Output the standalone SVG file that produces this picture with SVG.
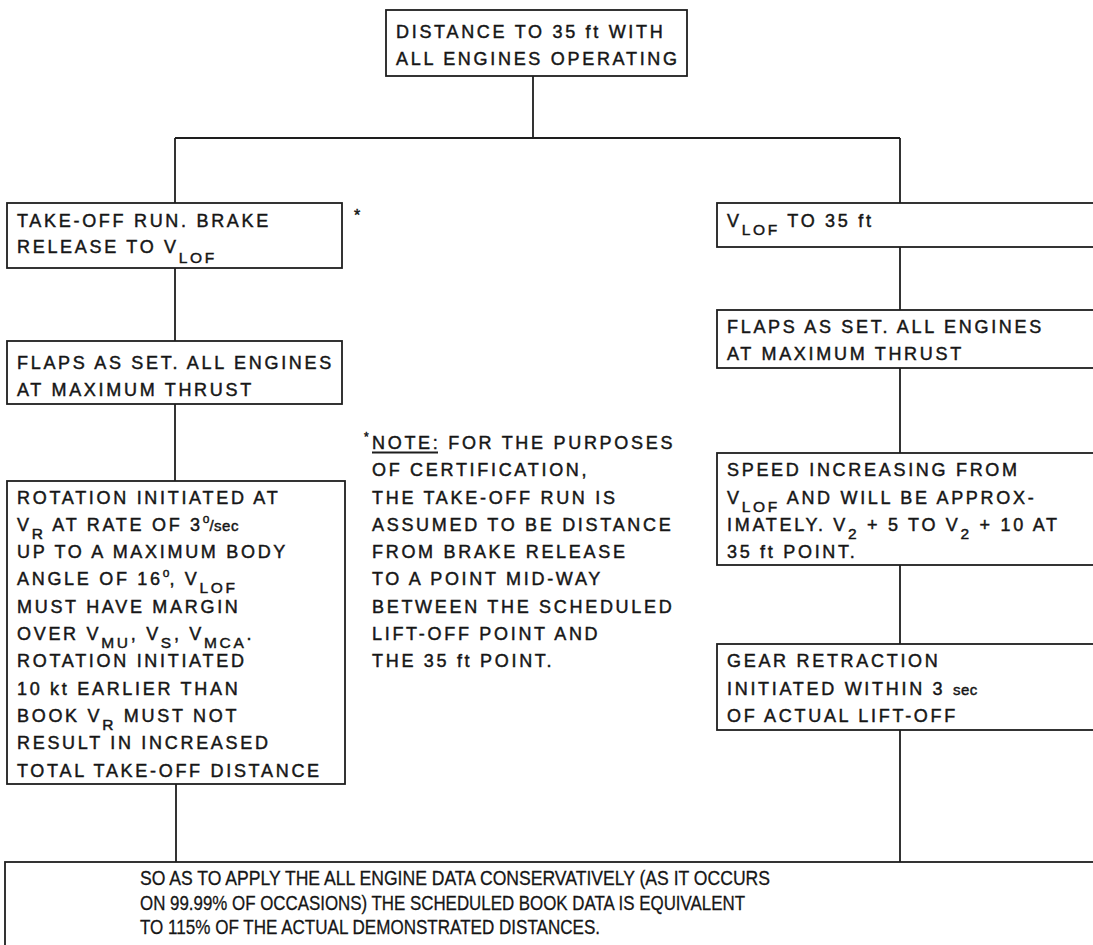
<svg xmlns="http://www.w3.org/2000/svg" width="1093" height="945" viewBox="0 0 1093 945">
<style>
.box{fill:#fff;stroke:#1e1e1e;stroke-width:1.8}
.con{fill:none;stroke:#1e1e1e;stroke-width:1.8}
text{font-family:"Liberation Sans",Arial,sans-serif;fill:#161616;stroke:#161616;stroke-width:0.45}
.t{font-size:18px;letter-spacing:2.7px}
.sub{font-size:15.5px}
.sm{font-size:15px;letter-spacing:0.5px}
.sup{font-size:12px;letter-spacing:0}
.bt{font-size:21px;stroke-width:0.3}
</style>
<rect width="1093" height="945" fill="#fff"/>
<g id="connectors">
<path class="con" d="M533 76V138M175 138H900M175 138V203M900 138V203M175 268V341M175 404V481M176 784V862M900 247V310M900 368V453M900 565V644M900 730V862"/>
<path class="con" d="M372 452.5H438" stroke-width="1.3"/>
</g>
<g id="n-top">
<rect class="box" x="386" y="10" width="301" height="66"/>
<text class="t" x="396" y="38">DISTANCE TO 35 ft WITH</text>
<text class="t" x="396" y="65">ALL ENGINES OPERATING</text>
</g>
<g id="n-takeoff-run">
<rect class="box" x="7" y="203" width="335" height="65"/>
<text class="t" x="17" y="227">TAKE-OFF RUN. BRAKE</text>
<text class="t" x="17" y="253">RELEASE TO V<tspan class="sub" dy="10">LOF</tspan></text>
<text class="t" x="354" y="221" style="font-size:16px;letter-spacing:0">*</text>
</g>
<g id="n-flaps-left">
<rect class="box" x="7" y="341" width="335" height="63"/>
<text class="t" x="17" y="369">FLAPS AS SET. ALL ENGINES</text>
<text class="t" x="17" y="396">AT MAXIMUM THRUST</text>
</g>
<g id="n-rotation">
<rect class="box" x="7" y="481" width="338" height="303"/>
<text class="t" x="17" y="503.5">ROTATION INITIATED AT</text>
<text class="t" x="17" y="530.8">V<tspan class="sub" dy="8">R</tspan><tspan dy="-8"> AT RATE OF 3</tspan><tspan class="sup" dy="-8">o</tspan><tspan class="sm" dy="8">/sec</tspan></text>
<text class="t" x="17" y="558.1">UP TO A MAXIMUM BODY</text>
<text class="t" x="17" y="585.4">ANGLE OF 16<tspan class="sup" dy="-8">o</tspan><tspan dy="8">, V</tspan><tspan class="sub" dy="8">LOF</tspan></text>
<text class="t" x="17" y="612.7">MUST HAVE MARGIN</text>
<text class="t" x="17" y="640">OVER V<tspan class="sub" dy="8">MU</tspan><tspan dy="-8">, V</tspan><tspan class="sub" dy="8">S</tspan><tspan dy="-8">, V</tspan><tspan class="sub" dy="8">MCA</tspan><tspan dy="-8">.</tspan></text>
<text class="t" x="17" y="667.3">ROTATION INITIATED</text>
<text class="t" x="17" y="694.6">10 kt EARLIER THAN</text>
<text class="t" x="17" y="721.9">BOOK V<tspan class="sub" dy="8">R</tspan><tspan dy="-8"> MUST NOT</tspan></text>
<text class="t" x="17" y="749.2">RESULT IN INCREASED</text>
<text class="t" x="17" y="776.5">TOTAL TAKE-OFF DISTANCE</text>
</g>
<g id="n-note">
<text class="t" x="364" y="441" style="font-size:12px;letter-spacing:0">*</text>
<text class="t" x="372" y="448.9">NOTE: FOR THE PURPOSES</text>
<text class="t" x="372" y="476.2">OF CERTIFICATION,</text>
<text class="t" x="372" y="503.5">THE TAKE-OFF RUN IS</text>
<text class="t" x="372" y="530.8">ASSUMED TO BE DISTANCE</text>
<text class="t" x="372" y="558.1">FROM BRAKE RELEASE</text>
<text class="t" x="372" y="585.4">TO A POINT MID-WAY</text>
<text class="t" x="372" y="612.7">BETWEEN THE SCHEDULED</text>
<text class="t" x="372" y="640">LIFT-OFF POINT AND</text>
<text class="t" x="372" y="667.3">THE 35 ft POINT.</text>
</g>
<g id="n-vlof">
<rect class="box" x="717" y="203" width="390" height="44"/>
<text class="t" x="727" y="227">V<tspan class="sub" dy="8">LOF</tspan><tspan dy="-8"> TO 35 ft</tspan></text>
</g>
<g id="n-flaps-right">
<rect class="box" x="717" y="310" width="390" height="58"/>
<text class="t" x="727" y="333">FLAPS AS SET. ALL ENGINES</text>
<text class="t" x="727" y="360">AT MAXIMUM THRUST</text>
</g>
<g id="n-speed">
<rect class="box" x="717" y="453" width="390" height="112"/>
<text class="t" x="727" y="476.2">SPEED INCREASING FROM</text>
<text class="t" x="727" y="503.5">V<tspan class="sub" dy="8">LOF</tspan><tspan dy="-8"> AND WILL BE APPROX-</tspan></text>
<text class="t" x="727" y="530.8">IMATELY. V<tspan class="sub" dy="8">2</tspan><tspan dy="-8"> + 5 TO V</tspan><tspan class="sub" dy="8">2</tspan><tspan dy="-8"> + 10 AT</tspan></text>
<text class="t" x="727" y="558.1">35 ft POINT.</text>
</g>
<g id="n-gear">
<rect class="box" x="717" y="644" width="390" height="86"/>
<text class="t" x="727" y="667.3">GEAR RETRACTION</text>
<text class="t" x="727" y="694.6">INITIATED WITHIN 3 <tspan class="sm">sec</tspan></text>
<text class="t" x="727" y="721.9">OF ACTUAL LIFT-OFF</text>
</g>
<g id="n-bottom">
<rect class="box" x="5" y="862" width="1100" height="100"/>
<text class="bt" x="140" y="885" textLength="630" lengthAdjust="spacingAndGlyphs">SO AS TO APPLY THE ALL ENGINE DATA CONSERVATIVELY (AS IT OCCURS</text>
<text class="bt" x="140" y="910" textLength="605" lengthAdjust="spacingAndGlyphs">ON 99.99% OF OCCASIONS) THE SCHEDULED BOOK DATA IS EQUIVALENT</text>
<text class="bt" x="140" y="934" textLength="460" lengthAdjust="spacingAndGlyphs">TO 115% OF THE ACTUAL DEMONSTRATED DISTANCES.</text>
</g>
</svg>
